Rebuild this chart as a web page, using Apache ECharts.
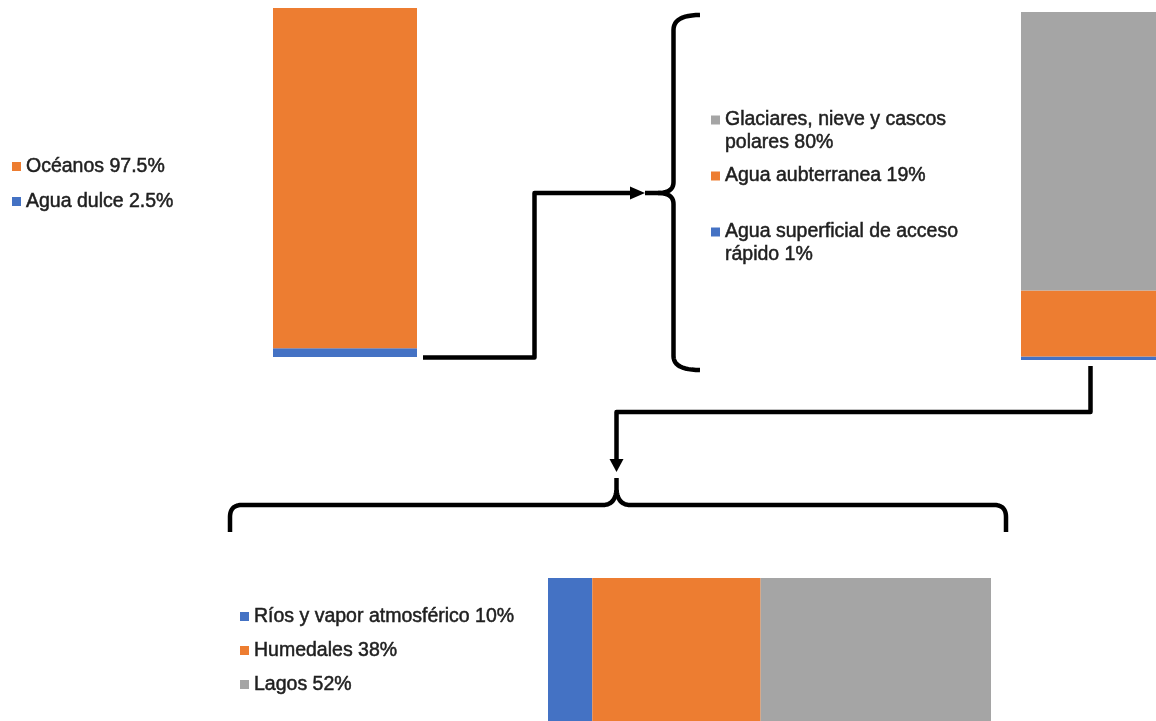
<!DOCTYPE html>
<html>
<head>
<meta charset="utf-8">
<style>
  html, body { margin: 0; padding: 0; background: #ffffff; }
  #chart { width: 1156px; height: 721px; }
</style>
<script src="https://cdn.jsdelivr.net/npm/echarts@6/dist/echarts.min.js"></script>
</head>
<body>
<div id="chart"></div>
<script>
// Water on Earth: total, fresh water, and surface fresh water (percent shares)
const totalNames = ['Océanos', 'Agua dulce'];
const totalValues = [97.5, 2.5];

const freshNames = ['Glaciares, nieve y cascos polares', 'Agua aubterranea', 'Agua superficial de acceso rápido'];
const freshValues = [80, 19, 1];

const surfaceNames = ['Ríos y vapor atmosférico', 'Humedales', 'Lagos'];
const surfaceValues = [10, 38, 52];

const ORANGE = '#ED7D31';
const BLUE = '#4472C4';
const GRAY = '#A5A5A5';
const TEXT = '#1f1f1f';
const FONT = 'Liberation Sans, Arial, Helvetica, sans-serif';
const FONT_SIZE = 19.5;
const WRAP = 245;

const valueOf = {};
totalNames.forEach((n, i) => { valueOf[n] = totalValues[i]; });
freshNames.forEach((n, i) => { valueOf[n] = freshValues[i]; });
surfaceNames.forEach((n, i) => { valueOf[n] = surfaceValues[i]; });

const legendText = {
  color: TEXT,
  fontFamily: FONT,
  fontSize: FONT_SIZE,
  lineHeight: 23,
  textBorderColor: TEXT,
  textBorderWidth: 0.5
};
const fmt = name => name + ' ' + valueOf[name] + '%';

// entries that wrap get an empty leading line so the marker sits beside the first line
const measure = document.createElement('canvas').getContext('2d');
measure.font = FONT_SIZE + 'px ' + FONT;
const fmtWrapped = name => {
  const s = fmt(name);
  return measure.measureText(s).width > WRAP ? '\n' + s : s;
};

function catAxis(gridIndex) {
  return { type: 'category', gridIndex, data: [''], show: false, boundaryGap: true };
}
function valAxis(gridIndex) {
  return { type: 'value', gridIndex, min: 0, max: 100, show: false };
}
function barSeries(name, value, color, xIdx, yIdx, stack) {
  return {
    type: 'bar',
    name,
    xAxisIndex: xIdx,
    yAxisIndex: yIdx,
    stack,
    barWidth: '100%',
    itemStyle: { color },
    emphasis: { disabled: true },
    data: [value]
  };
}

const colorTotal = { 'Océanos': ORANGE, 'Agua dulce': BLUE };
const colorFresh = {
  'Glaciares, nieve y cascos polares': GRAY,
  'Agua aubterranea': ORANGE,
  'Agua superficial de acceso rápido': BLUE
};
const colorSurface = { 'Ríos y vapor atmosférico': BLUE, 'Humedales': ORANGE, 'Lagos': GRAY };

const series = [];
// column 1: fresh water sits at the bottom
for (let i = totalNames.length - 1; i >= 0; i--) {
  series.push(barSeries(totalNames[i], totalValues[i], colorTotal[totalNames[i]], 0, 0, 'total'));
}
// column 2: quick-access surface water at the bottom, ice on top
for (let i = freshNames.length - 1; i >= 0; i--) {
  series.push(barSeries(freshNames[i], freshValues[i], colorFresh[freshNames[i]], 1, 1, 'fresh'));
}
// horizontal bar: left to right
surfaceNames.forEach((n, i) => {
  series.push(barSeries(n, surfaceValues[i], colorSurface[n], 2, 2, 'surface'));
});

// connector drawing helpers: straight runs joined by quadratic bends
function bend(p0, c, p1, steps) {
  const pts = [];
  for (let k = 1; k <= steps; k++) {
    const t = k / steps, u = 1 - t;
    pts.push([u * u * p0[0] + 2 * u * t * c[0] + t * t * p1[0],
              u * u * p0[1] + 2 * u * t * c[1] + t * t * p1[1]]);
  }
  return pts;
}
// segs: a point [x, y] draws a straight run; [[cx, cy], [x, y]] draws a bend
function path(start, segs) {
  let pts = [start];
  segs.forEach(s => {
    const last = pts[pts.length - 1];
    if (typeof s[0] === 'number') pts.push(s);
    else pts = pts.concat(bend(last, s[0], s[1], 12));
  });
  return pts;
}
const line = { stroke: '#000', lineWidth: 4.5, lineJoin: 'round', lineCap: 'butt', fill: null };
const poly = (points) => ({ type: 'polyline', z: 100, shape: { points }, style: line });

// left curly brace beside the fresh-water list
const braceUpper = path([700, 15], [[[673.5, 15], [673.5, 30]], [673.5, 182], [[673.5, 193], [658, 193]], [645, 193]]);
const braceLower = path([658, 193], [[[673.5, 193], [673.5, 204]], [673.5, 356], [[673.5, 370], [700, 370]]]);
// brace over the surface-water bar
const braceLeft = path([230, 532], [[230, 517], [[230, 505], [242, 505]], [603, 505], [[615, 505], [616.5, 490]], [616.5, 478]]);
const braceRight = path([616.5, 490], [[[618, 505], [630, 505]], [994, 505], [[1006, 505], [1006, 517]], [1006, 532]]);

const option = {
  animation: false,
  backgroundColor: '#ffffff',
  grid: [
    { left: 273, top: 8, width: 144, height: 349, containLabel: false },
    { left: 1021, top: 12, width: 144, height: 348, containLabel: false },
    { left: 548, top: 578, width: 443, height: 144, containLabel: false }
  ],
  xAxis: [catAxis(0), catAxis(1), valAxis(2)],
  yAxis: [valAxis(0), valAxis(1), catAxis(2)],
  legend: [
    {
      orient: 'vertical', left: 12, top: 155, padding: 0, itemGap: 12,
      itemWidth: 9, itemHeight: 9, icon: 'rect', selectedMode: false,
      textStyle: legendText, formatter: fmt,
      data: totalNames.map(n => ({ name: n }))
    },
    {
      orient: 'vertical', left: 711, top: 85.5, padding: 0, itemGap: 10,
      itemWidth: 9, itemHeight: 9, icon: 'rect', selectedMode: false,
      textStyle: Object.assign({}, legendText, { width: WRAP, overflow: 'break' }),
      formatter: fmtWrapped,
      data: freshNames.map(n => ({ name: n }))
    },
    {
      orient: 'vertical', left: 240, top: 605, padding: 0, itemGap: 11,
      itemWidth: 9, itemHeight: 9, icon: 'rect', selectedMode: false,
      textStyle: legendText, formatter: fmt,
      data: surfaceNames.map(n => ({ name: n }))
    }
  ],
  series,
  graphic: [
    // from the fresh-water slice to the breakdown of fresh water
    poly([[423, 357.5], [534.5, 357.5], [534.5, 193], [632, 193]]),
    { type: 'polygon', z: 100, shape: { points: [[630, 186.5], [645, 193], [630, 199.5]] }, style: { fill: '#000' } },
    poly(braceUpper),
    poly(braceLower),
    // from the surface-water slice to the breakdown of surface water
    poly([[1090.5, 366], [1090.5, 412], [616.5, 412], [616.5, 461]]),
    { type: 'polygon', z: 100, shape: { points: [[609.5, 459], [623.5, 459], [616.5, 472]] }, style: { fill: '#000' } },
    poly(braceLeft),
    poly(braceRight)
  ]
};

const chart = echarts.init(document.getElementById('chart'), null, { renderer: 'canvas' });
chart.setOption(option);
</script>
</body>
</html>
